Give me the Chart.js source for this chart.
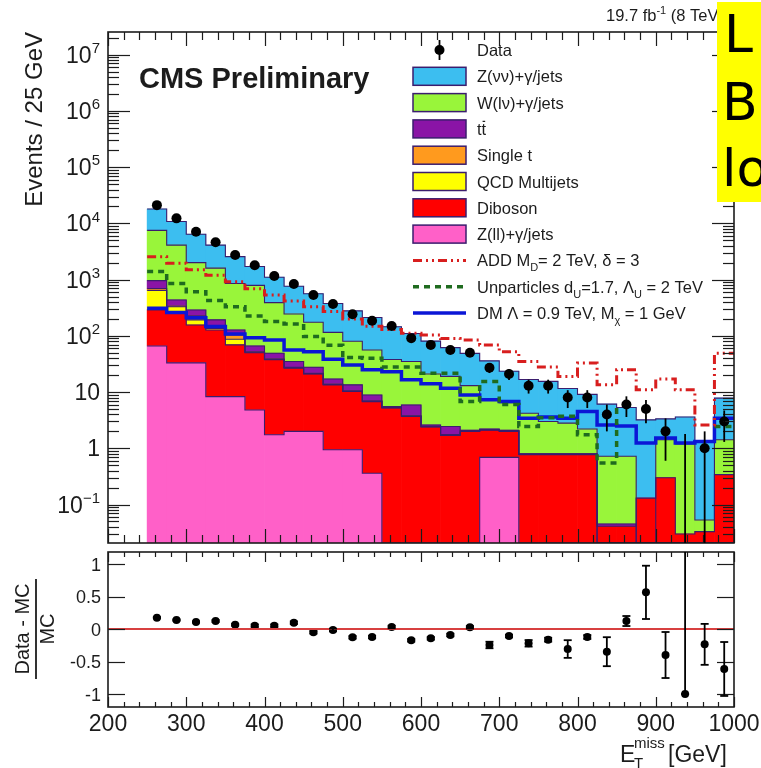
<!DOCTYPE html>
<html>
<head>
<meta charset="utf-8">
<script src="https://cdn.jsdelivr.net/npm/chart.js@4.4.0/dist/chart.umd.min.js"></script>
<style>
  html, body { margin: 0; padding: 0; background: #fff; }
  #wrap { position: relative; width: 761px; height: 768px; }
  #wrap canvas { position: absolute; left: 0; top: 0; }
</style>
</head>
<body>
<div id="wrap">
  <canvas id="ratio" width="761" height="768"></canvas>
  <canvas id="main" width="761" height="768"></canvas>
</div>
<script>
// 25 GeV bins, lower edges
const binLow = [250, 275, 300, 325, 350, 375, 400, 425, 450, 475, 500, 525, 550, 575, 600,
                625, 650, 675, 700, 725, 750, 775, 800, 825, 850, 875, 900, 925, 950, 975];
const binWidth = 25;

// observed events and their errors
const dataCounts = [21100, 12270, 7100, 4600, 2735, 1796, 1159, 835, 533, 369, 242, 186, 150, 91, 69,
                    56, 50, 27, 21, 13, 13, 8, 8, 4, 6, 5, 2, 0, 1, 3];
const dataErr = [145, 111, 84, 68, 52, 42, 34, 29, 23, 19, 15.6, 13.6, 12.2, 9.5, 8.3,
                 7.5, 7.1, 5.2, 4.6, 3.6, 3.6, 2.8, 2.8, 2.0, 2.4, 2.2, 1.4, 1.8, 1.0, 1.7];

// backgrounds, bottom of the stack first
const zllJets = [66, 33, 33, 8.3, 8.3, 4.8, 1.74, 2, 2, 0.94, 0.94, 0.36, 0, 0, 0,
                 0, 0, 0.69, 0.69, 0, 0, 0, 0, 0, 0, 0, 0, 0, 0, 0];
const diboson = [224, 218, 123, 118.7, 60.7, 45.2, 35.8, 24.5, 19, 12.5, 9.3, 6.4, 5.2, 3.7, 2.4,
                 1.7, 2.0, 1.41, 1.31, 0.77, 0.77, 0.77, 0.77, 0.041, 0.041, 0.13, 0.3, 0.03, 0.033, 0.34];
const qcdMultijet = [350, 79, 36, 8, 18, 1, 0.5, 0.5, 0.3, 0.2, 0.15, 0.1, 0.05, 0.05, 0.02,
                     0.02, 0.02, 0.03, 0.03, 0.01, 0.01, 0.01, 0.01, 0, 0, 0, 0, 0, 0, 0];
const singleTop = [50, 10, 34, 11, 17, 1, 1, 0.5, 0.3, 0.2, 0.15, 0.1, 0.05, 0.05, 0.03,
                   0.03, 0.02, 0.03, 0.03, 0.01, 0.01, 0.01, 0.01, 0, 0, 0, 0, 0, 0, 0];
const ttbar = [270, 95, 62, 46, 23, 14, 10, 7.5, 6, 3.2, 2.9, 1.9, 0.2, 2.1, 0.15,
               0.69, 0.06, 0.04, 0.04, 0.01, 0.01, 0.01, 0.01, 0.004, 0.004, 0, 0, 0, 0, 0];
const wJets = [6540, 3665, 1712, 1408, 723, 724, 341, 210, 147, 98, 66.6, 47.1, 32.5, 29.1, 18.4,
               16.6, 10.9, 5.1, 4.4, 3.4, 2.2, 2.0, 1.4, 0.675, 0.675, 0, 1.12, 1.17, 0.02, 1.08];
const zvvJets = [10470, 6680, 4408, 2496, 1716, 919, 713, 516, 387, 260, 197.5, 156, 107.5, 75, 59.6,
                 42.7, 35.7, 28.5, 17, 12.5, 12.5, 8.8, 6.9, 5.38, 4.58, 3.07, 1.91, 2.4, 1.26, 6.38];

// signal hypotheses
const addSignal = [2560, 1950, 1490, 1200, 920, 690, 530, 415, 330, 270, 200, 148, 130, 111, 104,
                   90, 84, 69, 52, 35, 28, 19, 33, 13.5, 25, 11, 17, 11, 2.6, 49];
const unpSignal = [1390, 855, 610, 423, 330, 225, 180, 163, 97, 68, 41, 40, 28, 28, 21.6,
                   21.6, 6.8, 15.4, 6, 2.44, 3.5, 3.7, 1.74, 0.55, 5.7, 0, 1.3, 0, 0, 2.44];
const dmSignal = [310, 260, 210, 146, 108, 92, 84, 56, 52, 38.5, 30.4, 25, 23, 16.5, 14,
                  11.7, 8.9, 7.3, 6.8, 3.44, 3.6, 3.44, 4.5, 2.6, 2.5, 1.24, 1.52, 1.24, 1.32, 3.44];

// (data - MC) / MC
const ratioVals = [0.174, 0.138, 0.108, 0.123, 0.066, 0.051, 0.051, 0.097, -0.051, -0.015, -0.128, -0.123, 0.031, -0.174, -0.144,
                   -0.092, 0.026, -0.246, -0.108, -0.22, -0.164, -0.308, -0.123, -0.349, 0.123, 0.564, -0.4, -1, -0.236, -0.615];
const ratioErrHigh = [0.01, 0.01, 0.01, 0.015, 0.015, 0.02, 0.02, 0.02, 0.02, 0.02, 0.02, 0.02, 0.02, 0.02, 0.02,
                      0.02, 0.02, 0.05, 0.02, 0.05, 0.03, 0.136, 0.03, 0.223, 0.077, 0.41, 0.354, 2.5, 0.315, 0.415];
const ratioErrLow = [0.01, 0.01, 0.01, 0.015, 0.015, 0.02, 0.02, 0.02, 0.02, 0.02, 0.02, 0.02, 0.02, 0.02, 0.02,
                     0.02, 0.02, 0.05, 0.02, 0.05, 0.03, 0.136, 0.03, 0.223, 0.077, 0.41, 0.354, 0, 0.315, 0.415];

const xTickLabels = ['200', '300', '400', '500', '600', '700', '800', '900', '1000'];
const ratioTickLabels = ['1', '0.5', '0', '-0.5', '-1'];

const FONT = "'Liberation Sans', Arial, Helvetica, sans-serif";
const OUTLINE = '#3b1d6e';
Chart.defaults.font.family = FONT;
Chart.defaults.animation = false;

const centers = binLow.map(v => v + binWidth / 2);
const pts = arr => arr.map((v, i) => ({ x: centers[i], y: v }));
const steps = arr => binLow.map((v, i) => ({ x: v, y: arr[i] }))
  .concat([{ x: binLow[binLow.length - 1] + binWidth, y: arr[arr.length - 1] }]);

// text with sub/superscripts: mode 0 plain, 1 sub, 2 super, 3 overlined
function richText(ctx, segs, x, y, size, align) {
  const small = Math.round(size * 0.66);
  const widths = segs.map(([t, m]) => {
    ctx.font = `${m === 1 || m === 2 ? small : size}px ${FONT}`;
    return ctx.measureText(t).width;
  });
  const total = widths.reduce((a, b) => a + b, 0);
  let cx = align === 'right' ? x - total : align === 'center' ? x - total / 2 : x;
  ctx.textAlign = 'left';
  ctx.textBaseline = 'alphabetic';
  segs.forEach(([t, m], i) => {
    ctx.font = `${m === 1 || m === 2 ? small : size}px ${FONT}`;
    const dy = m === 1 ? size * 0.3 : m === 2 ? -size * 0.42 : 0;
    ctx.fillText(t, cx, y + dy);
    if (m === 3) {
      ctx.save();
      ctx.lineWidth = 1.2;
      ctx.strokeStyle = ctx.fillStyle;
      ctx.beginPath();
      ctx.moveTo(cx + 1, y - size * 0.82);
      ctx.lineTo(cx + widths[i] - 1, y - size * 0.82);
      ctx.stroke();
      ctx.restore();
    }
    cx += widths[i];
  });
}

function line(ctx, x1, y1, x2, y2) {
  ctx.beginPath(); ctx.moveTo(x1, y1); ctx.lineTo(x2, y2); ctx.stroke();
}

function clipArea(ctx, a) {
  ctx.beginPath();
  ctx.rect(a.left, a.top, a.right - a.left, a.bottom - a.top);
  ctx.clip();
}

// step outline along the top of every stacked layer, drawn once the
// last bar layer is painted (bars are painted top layer first)
const stackOutline = {
  id: 'stackOutline',
  afterDatasetDraw(chart, args) {
    if (args.index !== 0) return;
    const { ctx, chartArea: a } = chart;
    ctx.save();
    clipArea(ctx, a);
    ctx.strokeStyle = OUTLINE;
    ctx.lineWidth = 1.1;
    chart.data.datasets.forEach((d, di) => {
      const meta = chart.getDatasetMeta(di);
      if (meta.type !== 'bar') return;
      ctx.beginPath();
      meta.data.forEach((el, i) => {
        const { x, y, width } = el.getProps(['x', 'y', 'width'], true);
        if (i === 0) ctx.moveTo(x - width / 2, y); else ctx.lineTo(x - width / 2, y);
        ctx.lineTo(x + width / 2, y);
      });
      ctx.stroke();
    });
    ctx.restore();
  }
};

// ROOT-like frame with inward ticks on all four sides
const framePlugin = {
  id: 'frame',
  afterDatasetsDraw(chart, args, o) {
    const { ctx, chartArea: a } = chart;
    const x = chart.scales.x, y = chart.scales.y;
    ctx.save();
    ctx.strokeStyle = '#1c1c1c';
    ctx.lineWidth = 1.2;
    for (let v = x.min; v <= x.max + 1e-6; v += o.xStep) {
      const px = Math.round(x.getPixelForValue(v)) + 0.5;
      const len = Math.abs(v % o.xMajor) < 1e-6 ? o.xMajorLen : o.xMinorLen;
      line(ctx, px, a.bottom, px, a.bottom - len);
      line(ctx, px, a.top, px, a.top + len);
    }
    const yTicks = [];
    if (y.type === 'logarithmic') {
      for (let e = -2; e <= 7; e++) {
        for (let m = 1; m <= 9; m++) {
          const v = m * Math.pow(10, e);
          if (v >= y.min && v <= y.max) yTicks.push([v, m === 1]);
        }
      }
    } else {
      o.yMajors.forEach(v => yTicks.push([v, true]));
    }
    yTicks.forEach(([v, major]) => {
      const py = Math.round(y.getPixelForValue(v)) + 0.5;
      const len = major ? o.yMajorLen : o.yMinorLen;
      line(ctx, a.left, py, a.left + len, py);
      line(ctx, a.right, py, a.right - len, py);
    });
    ctx.lineWidth = 1.6;
    ctx.strokeRect(a.left, a.top, a.right - a.left, a.bottom - a.top);
    ctx.restore();
  }
};

// vertical error bars on a point dataset
const errorBarPlugin = {
  id: 'errbars',
  afterDatasetsDraw(chart, args, o) {
    const { ctx, chartArea: a } = chart;
    const y = chart.scales.y, x = chart.scales.x;
    ctx.save();
    clipArea(ctx, a);
    ctx.strokeStyle = '#000';
    ctx.lineWidth = 1.8;
    o.values.forEach((v, i) => {
      const px = x.getPixelForValue(o.xs[i]);
      const hi = v + o.high[i], lo = v - o.low[i];
      const pHi = y.getPixelForValue(hi);
      const pLo = (y.type === 'logarithmic' && lo <= 0) ? a.bottom + 2 : y.getPixelForValue(lo);
      if (Math.abs(pLo - pHi) < 1) return;
      line(ctx, px, pHi, px, pLo);
      if (o.cap) {
        line(ctx, px - o.cap, pHi, px + o.cap, pHi);
        line(ctx, px - o.cap, pLo, px + o.cap, pLo);
      }
    });
    ctx.restore();
  }
};

const legendRows = [
  ['Data', [['Data', 0]]],
  ['Z(νν)+γ/jets', [['Z(νν)+γ/jets', 0]]],
  ['W(lν)+γ/jets', [['W(lν)+γ/jets', 0]]],
  ['tt', [['t', 0], ['t', 3]]],
  ['Single t', [['Single t', 0]]],
  ['QCD Multijets', [['QCD Multijets', 0]]],
  ['Diboson', [['Diboson', 0]]],
  ['Z(ll)+γ/jets', [['Z(ll)+γ/jets', 0]]],
  ['ADD', [['ADD M', 0], ['D', 1], ['= 2 TeV, δ = 3', 0]]],
  ['Unparticles', [['Unparticles d', 0], ['U', 1], ['=1.7, Λ', 0], ['U', 1], [' = 2 TeV', 0]]],
  ['DM', [['DM Λ = 0.9 TeV, M', 0], ['χ', 1], [' = 1 GeV', 0]]],
];

// labels, legend and titles of the upper pad
const mainDecor = {
  id: 'mainDecor',
  afterDraw(chart) {
    const { ctx, chartArea: a } = chart;
    const y = chart.scales.y;
    ctx.save();
    ctx.fillStyle = '#1c1c1c';
    // y tick labels
    for (let e = -1; e <= 7; e++) {
      const py = y.getPixelForValue(Math.pow(10, e));
      let segs;
      if (e === 0) segs = [['1', 0]];
      else if (e === 1) segs = [['10', 0]];
      else segs = [['10', 0], [String(e).replace('-', '\u2212'), 2]];
      richText(ctx, segs, 100, py + 8, 23, 'right');
    }
    // y title
    ctx.save();
    ctx.translate(42, a.top);
    ctx.rotate(-Math.PI / 2);
    ctx.font = `24px ${FONT}`;
    ctx.textAlign = 'right';
    ctx.fillText('Events / 25 GeV', 0, 0);
    ctx.restore();
    // CMS label
    ctx.font = `bold 29px ${FONT}`;
    ctx.textAlign = 'left';
    ctx.fillText('CMS Preliminary', 139, 88);
    // luminosity
    richText(ctx, [['19.7 fb', 0], ['-1', 2], [' (8 TeV)', 0]], 606, 21, 16.5, 'left');

    // legend
    const ds = chart.data.datasets;
    legendRows.forEach(([key, segs], r) => {
      const cy = 50 + r * 26.3;
      const d = ds.find(s => s.label === key);
      const bx = 413, bw = 53;
      if (d.type === 'bar') {
        ctx.fillStyle = d.backgroundColor;
        ctx.fillRect(bx, cy - 9, bw, 18);
        ctx.strokeStyle = OUTLINE;
        ctx.lineWidth = 1.5;
        ctx.strokeRect(bx, cy - 9, bw, 18);
      } else if (key === 'Data') {
        ctx.fillStyle = '#000';
        ctx.strokeStyle = '#000';
        ctx.lineWidth = 1.8;
        line(ctx, bx + bw / 2, cy - 10, bx + bw / 2, cy + 10);
        ctx.beginPath();
        ctx.arc(bx + bw / 2, cy, 5, 0, Math.PI * 2);
        ctx.fill();
      } else {
        ctx.strokeStyle = d.borderColor;
        ctx.lineWidth = d.borderWidth;
        ctx.setLineDash(d.borderDash || []);
        line(ctx, bx, cy, bx + bw, cy);
        ctx.setLineDash([]);
      }
      ctx.fillStyle = '#1c1c1c';
      richText(ctx, segs, 477, cy + 6, 16.5, 'left');
    });

    // note box in the corner
    ctx.fillStyle = '#ffff00';
    ctx.fillRect(717, 2, 44, 200);
    ctx.fillStyle = '#000';
    ctx.font = `52px 'DejaVu Sans', sans-serif`;
    ctx.textAlign = 'left';
    ctx.fillText('L', 724, 52);
    ctx.fillText('B', 722, 120);
    ctx.fillText('lo', 722, 186);
    ctx.restore();
  }
};

// labels and titles of the ratio pad
const ratioDecor = {
  id: 'ratioDecor',
  beforeDraw(chart) {
    const { ctx } = chart;
    ctx.save();
    ctx.fillStyle = '#fff';
    ctx.fillRect(0, 0, chart.width, chart.height);
    ctx.restore();
  },
  afterDraw(chart) {
    const { ctx } = chart;
    const x = chart.scales.x, y = chart.scales.y;
    ctx.save();
    ctx.fillStyle = '#1c1c1c';
    ctx.font = `23px ${FONT}`;
    ctx.textAlign = 'center';
    xTickLabels.forEach(t => ctx.fillText(t, x.getPixelForValue(Number(t)), 731));
    ctx.font = `18px ${FONT}`;
    ctx.textAlign = 'right';
    ratioTickLabels.forEach(t => ctx.fillText(t, 101, y.getPixelForValue(Number(t)) + 6.5));
    // x title
    richText(ctx, [['E', 0]], 620, 762, 23, 'left');
    richText(ctx, [['miss', 0]], 634, 748, 15, 'left');
    richText(ctx, [['T', 0]], 634, 768, 15, 'left');
    richText(ctx, [['[GeV]', 0]], 668, 762, 23, 'left');
    // y title as a fraction
    ctx.save();
    ctx.translate(0, 629);
    ctx.rotate(-Math.PI / 2);
    ctx.font = `20px ${FONT}`;
    ctx.textAlign = 'center';
    ctx.fillText('Data - MC', 0, 29);
    ctx.fillText('MC', 0, 54);
    ctx.lineWidth = 1.8;
    ctx.strokeStyle = '#1c1c1c';
    line(ctx, -50, 36, 50, 36);
    ctx.restore();
    ctx.restore();
  }
};

function stackSet(label, values, color) {
  return {
    type: 'bar', label, data: pts(values), backgroundColor: color,
    borderWidth: 0, barPercentage: 1, categoryPercentage: 1, order: 3
  };
}

new Chart(document.getElementById('main'), {
  type: 'bar',
  data: {
    datasets: [
      stackSet('Z(ll)+γ/jets', zllJets, '#ff60c8'),
      stackSet('Diboson', diboson, '#ff0000'),
      stackSet('QCD Multijets', qcdMultijet, '#ffff00'),
      stackSet('Single t', singleTop, '#ff9a1e'),
      stackSet('tt', ttbar, '#8a14a6'),
      stackSet('W(lν)+γ/jets', wJets, '#99f53a'),
      stackSet('Z(νν)+γ/jets', zvvJets, '#3cbef0'),
      {
        type: 'line', label: 'ADD', data: steps(addSignal), stepped: true,
        borderColor: '#d81e1e', borderWidth: 3, borderDash: [9, 4, 2, 4, 2, 4],
        pointRadius: 0, fill: false, stack: 'add', order: 1
      },
      {
        type: 'line', label: 'Unparticles', data: steps(unpSignal), stepped: true,
        borderColor: '#1f6b1f', borderWidth: 3.5, borderDash: [6, 5],
        pointRadius: 0, fill: false, stack: 'unp', order: 1
      },
      {
        type: 'line', label: 'DM', data: [{ x: 200, y: 0 }].concat(steps(dmSignal)), stepped: true,
        borderColor: '#0b16d6', borderWidth: 3.5,
        pointRadius: 0, fill: false, stack: 'dm', order: 1
      },
      {
        type: 'line', label: 'Data', data: dataCounts.map((v, i) => ({ x: centers[i], y: v > 0 ? v : null })),
        showLine: false, pointRadius: 5, pointBackgroundColor: '#000', pointBorderWidth: 0,
        stack: 'data', order: 0
      }
    ]
  },
  options: {
    responsive: false,
    layout: { padding: { left: 108, top: 32, right: 27, bottom: 225 } },
    scales: {
      x: { type: 'linear', min: 200, max: 1000, offset: false, stacked: true, display: false },
      y: { type: 'logarithmic', min: 0.0207, max: 2.53e7, stacked: true, display: false }
    },
    plugins: {
      legend: { display: false },
      tooltip: { enabled: false },
      frame: { xStep: 20, xMajor: 100, xMajorLen: 14, xMinorLen: 8, yMajorLen: 22, yMinorLen: 11 },
      errbars: { values: dataCounts, xs: centers, high: dataErr, low: dataErr, cap: 0 }
    }
  },
  plugins: [stackOutline, framePlugin, errorBarPlugin, mainDecor]
});

new Chart(document.getElementById('ratio'), {
  type: 'line',
  data: {
    datasets: [
      {
        label: 'zero', data: [{ x: 200, y: 0 }, { x: 1000, y: 0 }],
        borderColor: '#d84040', borderWidth: 2, pointRadius: 0
      },
      {
        label: 'ratio', data: pts(ratioVals), showLine: false,
        pointRadius: 4, pointBackgroundColor: '#000', pointBorderWidth: 0
      }
    ]
  },
  options: {
    responsive: false,
    layout: { padding: { left: 108, top: 552, right: 27, bottom: 61 } },
    scales: {
      x: { type: 'linear', min: 200, max: 1000, display: false },
      y: { type: 'linear', min: -1.2, max: 1.185, display: false }
    },
    plugins: {
      legend: { display: false },
      tooltip: { enabled: false },
      frame: { xStep: 20, xMajor: 100, xMajorLen: 10, xMinorLen: 5, yMajorLen: 17, yMinorLen: 8, yMajors: [-1, -0.5, 0, 0.5, 1] },
      errbars: { values: ratioVals, xs: centers, high: ratioErrHigh, low: ratioErrLow, cap: 4 }
    }
  },
  plugins: [ratioDecor, framePlugin, errorBarPlugin]
});
</script>
</body>
</html>
